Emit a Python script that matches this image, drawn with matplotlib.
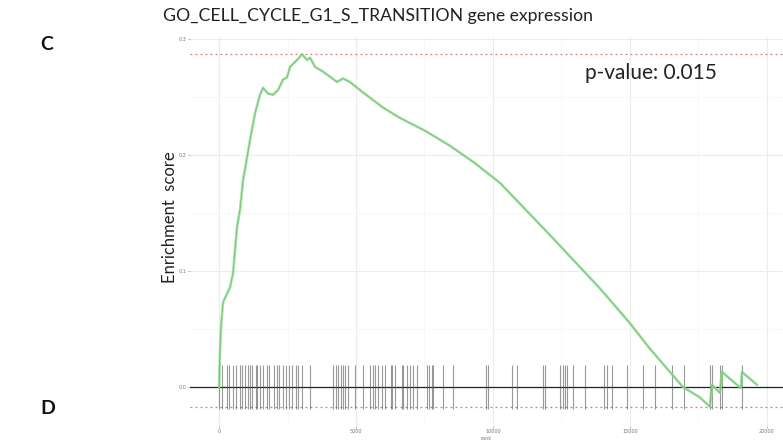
import matplotlib as mpl
import numpy as np
from matplotlib import pyplot as plt

mpl.use("Agg")

# running enrichment score (rank, score)
curve_rank = [0, 37, 73, 146, 402, 511, 657, 767, 876, 1132, 1314, 1497, 1606, 1789,
              1971, 2154, 2336, 2482, 2592, 2847, 3030, 3212, 3322, 3504, 3796, 4307,
              4526, 4782, 5256, 5986, 6607, 7519, 8432, 9344, 10257, 12082, 13907,
              15002, 15732, 16936, 17557, 17922, 17995, 18287, 18360, 19053, 19090,
              19637]
curve_es = [0.000, 0.032, 0.052, 0.073, 0.086, 0.098, 0.138, 0.153, 0.178, 0.213, 0.236,
            0.252, 0.258, 0.253, 0.252, 0.256, 0.265, 0.267, 0.276, 0.282, 0.287, 0.282,
            0.284, 0.276, 0.272, 0.263, 0.266, 0.263, 0.254, 0.241, 0.232, 0.221, 0.208,
            0.193, 0.176, 0.131, 0.085, 0.055, 0.033, 0.000, -0.009, -0.017, 0.002,
            -0.005, 0.013, -0.001, 0.013, 0.002]

# ranks of the gene set members in the ranked list
hit_ranks = [0, 110, 292, 365, 511, 621, 767, 840, 949, 1059, 1132, 1205, 1351, 1387,
             1497, 1606, 1752, 1825, 2008, 2117, 2190, 2336, 2446, 2555, 2665, 2811,
             2884, 3030, 3322, 4161, 4271, 4344, 4453, 4526, 4599, 4709, 4964, 5256,
             5512, 5621, 5694, 5804, 5950, 6059, 6278, 6315, 6424, 6680, 6716, 6862,
             6972, 7081, 7227, 7592, 7665, 7775, 7811, 8176, 8541, 9746, 9819, 10695,
             10877, 11826, 11899, 12447, 12556, 12629, 12702, 12921, 13359, 14053,
             14162, 14345, 14892, 15476, 15914, 16535, 16973, 17922, 17995, 18287,
             18360, 19090]

es_top = 0.287
es_bottom = -0.017
x_ticks = [0, 5000, 10000, 15000, 20000]
y_ticks = [0.0, 0.1, 0.2, 0.3]
pathway = "GO_CELL_CYCLE_G1_S_TRANSITION gene expression"
p_label = "p-value: 0.015"

W, H = 783, 444
fig = plt.figure(figsize=(W / 100, H / 100), dpi=100)
ax = fig.add_axes([190 / W, 1 - 426 / H, 593 / W, 389 / H])

tick_half = (es_top - es_bottom) / 16

ax.set_xlim(-1060, 20590)
ax.set_ylim(-0.0336, 0.3018)

ax.set_xticks(x_ticks)
ax.set_xticks([2500, 7500, 12500, 17500], minor=True)
ax.set_yticks(y_ticks)
ax.set_yticks([0.05, 0.15, 0.25], minor=True)
ax.set_xticklabels([str(v) for v in x_ticks])
ax.set_yticklabels([f"{v:.1f}" for v in y_ticks])
ax.grid(True, which="major", color="#ececec", lw=0.8)
ax.grid(True, which="minor", color="#f6f6f6", lw=0.5)
ax.set_axisbelow(True)
for side in ax.spines.values():
    side.set_visible(False)
ax.tick_params(which="major", length=1.5, width=0.5, color="#999999",
               labelsize=3.5, labelcolor="#777777", pad=0.8)
ax.tick_params(which="minor", length=0)
ax.set_xlabel("rank", fontsize=3.5, color="#777777", labelpad=1)

ax.axhline(es_top, color="#e57373", lw=0.9, ls=(0, (1.5, 2.5)))
ax.axhline(es_bottom, color="#e57373", lw=0.9, ls=(0, (1.5, 2.5)))
ax.axhline(0, color="#222222", lw=0.9)

ax.vlines(hit_ranks, -tick_half, tick_half, color="#555555", lw=0.8, alpha=0.6)

ax.plot(curve_rank, curve_es, color="#93dc93", lw=1.9, alpha=0.85, solid_joinstyle="round")
ax.plot(curve_rank, curve_es, color="#5fae5f", lw=0.5, alpha=0.7)

font = ["Lato", "DejaVu Sans"]
fig.text(163 / W, 1 - 16 / H, pathway, family=font, fontsize=12.7,
         color="#222222", ha="left", va="center")
fig.text(585 / W, 1 - 73 / H, p_label, family=font, fontsize=15,
         color="#222222", ha="left", va="center")
fig.text(170 / W, 1 - 217 / H, "Enrichment  score", family=font, fontsize=12,
         color="#222222", rotation=90, ha="center", va="center")
fig.text(40 / W, 1 - 45 / H, "C", family=font, fontsize=14, fontweight="bold",
         color="#111111", ha="left", va="center")
fig.text(40 / W, 1 - 408 / H, "D", family=font, fontsize=14, fontweight="bold",
         color="#111111", ha="left", va="center")

fig.savefig("out.png", dpi=100, facecolor="white")
